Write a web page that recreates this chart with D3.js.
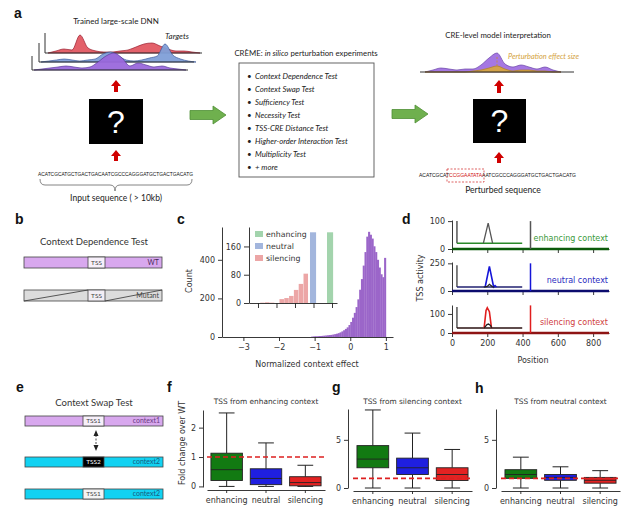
<!DOCTYPE html>
<html><head><meta charset="utf-8">
<script src="https://cdn.jsdelivr.net/npm/d3@7"></script>
<style>body{margin:0;background:#fff}svg{display:block}</style>
</head><body><svg id="c" width="640" height="511"></svg>
<script>
// ================= DATA =================
// Panel a: schematic signal tracks (heights)
const redTrack    = [0,2,4,3,18,5,2,1,1,2,3,6,9,10,7,4,2,2,1,0];
const blueTrack   = [0,1,2,3,2,1,2,3,8,10,6,2,1,2,4,6,18,7,3,1,0];
const purpleTrack = [0,1,2,3,4,3,2,3,8,14,17,12,4,7,5,3,4,2,1,0];
const interpTrack = [0,2,4,3,2,3,3,7,14,19,8,5,7,5,3,5,2,0];
const effectTrack = [0,0,0,0,0,0,1,2,4,6,3,1,2,2,1,1,0,0];
const creTests = ["Context Dependence Test","Context Swap Test","Sufficiency Test","Necessity Test",
  "TSS-CRE Distance Test","Higher-order Interaction Test","Multiplicity Test","+ more"];
const inputSeq = "ACATCGCATGCTGACTGACAATCGCCCAGGGATGCTGACTGACATG";
const seqParts = ["ACATCGCAT","CCGGAATATA","AATCGCCCAGGGATGCTGACTGACATG"];

// Panel c: histogram of normalized context effect
const histBinStarts = [-1.10,-1.05,-1.00,-0.95,-0.90,-0.85,-0.80,-0.75,-0.70,-0.65,-0.60,-0.55,-0.50,-0.45,-0.40,-0.35,-0.30,-0.25,-0.20,-0.15,-0.10,-0.05,0.00,0.05,0.10,0.15,0.20,0.25,0.30,0.35,0.40,0.45,0.50,0.55,0.60,0.65,0.70,0.75,0.80,0.85,0.90,0.95];
const histCounts    = [2,3,4,4,5,5,6,7,8,9,10,11,13,15,17,20,24,29,35,42,50,62,78,100,125,155,195,245,300,370,440,520,545,530,510,470,440,400,360,325,310,410];
const histBinWidth = 0.05;
const mainXTicks = [-3,-2,-1,0,1];
const mainYTicks = [0,200,400];
const insetSilStarts = [-2.44,-2.31,-2.18,-2.05,-1.92,-1.79,-1.66,-1.53,-1.40,-1.27];
const insetSilCounts = [1,2,1,0,11,14,20,37,54,83];
const insetSilWidth = 0.13;
const insetNeutral = {start:-1.095, width:0.165, count:200};
const insetEnhancing = {start:-0.635, width:0.165, count:200};
const insetYTicks = [0,80,160];
const insetXTicks = [-2.5,-2,-1.5,-1,-0.5];
const legendLabels = ["enhancing","neutral","silencing"];

// Panel d: TSS activity vs position
const dLabels = ["enhancing context","neutral context","silencing context"];
const dYMax = [104, 262, 147];
const dYTicks = [[0,100],[0,250],[0,100]];
const dXTicks = [0,200,400,600,800];
const dTssPos = 445;
const dSpike = [100, 250, 145];
const dInsetStart = 28, dInsetEnd = 398;
const dInsetBase = [21, 36, 26];
const dInsetTop = [100, 232, 137];
const dRefPeak = [
  [[178,21],[205,93],[230,21]],
  [[180,36],[200,42],[212,60],[228,40],[240,36]],
  [[182,26],[198,44],[207,47],[218,40],[226,26]]];
const dCtxPeak = [
  null,
  [[188,36],[212,223],[236,36],[244,48],[252,36]],
  [[182,26],[193,118],[200,132],[212,112],[224,26]]];

// Panels f, g, h: box plot statistics [low whisker, q1, median, q3, high whisker]
const boxCats = ["enhancing","neutral","silencing"];
const fStats = [[0,0.20,0.57,1.13,2.50],[0,0.06,0.27,0.60,1.48],[0,0.02,0.13,0.33,0.72]];
const gStats = [[0,2.10,3.00,4.40,8.10],[0,1.40,2.10,3.10,5.70],[0,0.78,1.40,2.10,4.00]];
const hStats = [[0,1.00,1.40,1.90,3.20],[0,0.80,1.10,1.40,2.20],[0,0.50,0.80,1.10,1.80]];
const fTicks = [0,1,2], ghTicks = [0,5];

// ================= DRAW =================
const svg = d3.select('#c');
svg.append('rect').attr('width',640).attr('height',511).attr('fill','#fff');
const SANS = "Lato, 'Open Sans', sans-serif";
const MPL = "'DejaVu Sans', sans-serif";
const BOLD = "'Liberation Sans', Arial, sans-serif";
const intFmt = d3.format('d');

function txt(x,y,s,o={}){
  const t = svg.append('text').attr('x',x).attr('y',y).text(s)
    .attr('font-family',o.family||SANS).attr('font-size',o.size||8)
    .attr('fill',o.fill||'#222').attr('text-anchor',o.anchor||'start');
  if(o.weight) t.attr('font-weight',o.weight);
  if(o.style) t.attr('font-style',o.style);
  if(o.rot) t.attr('transform',`rotate(${o.rot},${x},${y})`);
  return t;
}
function line(x1,y1,x2,y2,c,w,dash){
  const l = svg.append('line').attr('x1',x1).attr('y1',y1).attr('x2',x2).attr('y2',y2)
    .attr('stroke',c).attr('stroke-width',w);
  if(dash) l.attr('stroke-dasharray',dash);
  return l;
}
// panel letters
[["a",14,18],["b",15,224],["c",177,224],["d",402,224],["e",16,392],["f",167,392],["g",332,392],["h",475,393]]
  .forEach(([s,x,y])=>txt(x,y,s,{family:BOLD,size:14,weight:'bold',fill:'#111'}));

// ---------- Panel a ----------
function ridge(vals,x0,x1,base,fill,stroke,opacity){
  const xs = d3.scaleLinear().domain([0,vals.length-1]).range([x0,x1]);
  const ys = d3.scaleLinear().domain([0,20]).range([base,base-20]);
  svg.append('path').attr('d',d3.area().x((d,i)=>xs(i)).y0(base).y1(d=>ys(d)).curve(d3.curveMonotoneX)(vals))
    .attr('fill',fill).attr('fill-opacity',opacity||1).attr('stroke',stroke).attr('stroke-width',0.7);
}
txt(116,24,"Trained large-scale DNN",{size:8,anchor:'middle'});
txt(177,39,"Targets",{size:8,anchor:'middle',style:'italic'});
ridge(redTrack,48,200,53,'#e0505a','#9a2030',0.9);
line(45,33,45,53,'#333',1); line(45,53,202,53,'#333',1);
ridge(blueTrack,41,196,62,'#7f9fd8','#3d5a9a',0.95);
line(39,43,39,62,'#333',1); line(39,62,194,62,'#333',1);
ridge(purpleTrack,34,186,70,'#9a68dc','#5a3a9a',0.95);
line(32,56,32,70,'#333',1); line(32,70,188,70,'#333',1);

function redArrow(cx,yTop,yBot){
  svg.append('path').attr('d',`M${cx},${yTop} L${cx+5},${yTop+6} L${cx+2},${yTop+6} L${cx+2},${yBot} L${cx-2},${yBot} L${cx-2},${yTop+6} L${cx-5},${yTop+6} Z`)
    .attr('fill','#d00000');
}
function blackBox(x0,y0,x1,y1){
  svg.append('rect').attr('x',x0).attr('y',y0).attr('width',x1-x0).attr('height',y1-y0).attr('fill','#000');
  txt((x0+x1)/2,(y0+y1)/2+11,"?",{family:"'Liberation Sans', Arial, sans-serif",size:32,anchor:'middle',fill:'#fff'});
}
redArrow(116,80,92); blackBox(89,99,143,144); redArrow(116,150,161);
txt(38,176,inputSeq,{family:"'Liberation Sans', Arial, sans-serif",size:5,fill:'#111'}).attr('textLength',155).attr('lengthAdjust','spacingAndGlyphs');
svg.append('path').attr('d','M40,179 Q40,185 45,185 L110,185 Q115,185 115,191 Q115,185 120,185 L187,185 Q192,185 192,179')
  .attr('fill','none').attr('stroke','#666').attr('stroke-width',0.8);
txt(116,201,"Input sequence ( > 10kb)",{size:8.5,anchor:'middle'});

function greenArrow(x0,x1,cy){
  const hx = x1-13;
  svg.append('path').attr('d',`M${x0},${cy-4.5} L${hx},${cy-4.5} L${hx},${cy-9} L${x1},${cy} L${hx},${cy+9} L${hx},${cy+4.5} L${x0},${cy+4.5} Z`)
    .attr('fill','#6fb04e').attr('stroke','#4f8f35').attr('stroke-width',0.8);
}
greenArrow(190,226,115); greenArrow(392,428,114);

const ttl = svg.append('text').attr('x',306).attr('y',56).attr('text-anchor','middle')
  .attr('font-family',SANS).attr('font-size',7.8).attr('fill','#222');
ttl.append('tspan').text("CRÈME: ");
ttl.append('tspan').attr('font-style','italic').text("in silico");
ttl.append('tspan').text(" perturbation experiments");
svg.append('rect').attr('x',239).attr('y',63).attr('width',135).attr('height',114)
  .attr('fill','#fff').attr('stroke','#555').attr('stroke-width',0.9);
const testY = d3.scalePoint().domain(creTests).range([79,170]);
creTests.forEach(t=>{
  txt(247,testY(t),"•",{size:8});
  txt(255,testY(t),t,{size:7.8,style:'italic'});
});

txt(498,38,"CRE-level model interpretation",{size:7.8,anchor:'middle'});
ridge(interpTrack,425,561,72,'#a070e0','#6a45a8',0.95);
ridge(effectTrack,425,561,72,'#d6a540','#b08020',0.95);
line(420,72,574,72,'#333',1);
line(497,57,497,67,'#c89030',0.8,'2,1.5');
txt(508,59,"Perturbation effect size",{size:7.4,style:'italic',fill:'#d4a23c'});
redArrow(499,80,93); blackBox(473,99,526,143); redArrow(499,152,163);
const st = svg.append('text').attr('x',419).attr('y',177).attr('font-family',"'Liberation Sans', Arial, sans-serif")
  .attr('font-size',5).attr('fill','#111').attr('textLength',157).attr('lengthAdjust','spacingAndGlyphs');
st.append('tspan').text(seqParts[0]);
st.append('tspan').attr('fill','#d01010').text(seqParts[1]);
st.append('tspan').text(seqParts[2]);
svg.append('rect').attr('x',447).attr('y',169).attr('width',37).attr('height',13)
  .attr('fill','none').attr('stroke','#d02020').attr('stroke-width',0.7).attr('stroke-dasharray','2,1.5');
txt(503,193,"Perturbed sequence",{size:8.6,anchor:'middle'});

// ---------- Panels b & e ----------
function seqBar(y,h,x0,x1,t0,t1,fill,tssLabel,tssFill,tssColor,ctxLabel,ctxColor,diag){
  svg.append('rect').attr('x',x0).attr('y',y).attr('width',x1-x0).attr('height',h)
    .attr('fill',fill).attr('stroke','#444').attr('stroke-width',0.8);
  if(diag){
    line(x0,y+h,t0,y,'#333',0.8);
    line(t1,y+h,x1,y,'#333',0.8);
  }
  svg.append('rect').attr('x',t0).attr('y',y).attr('width',t1-t0).attr('height',h)
    .attr('fill',tssFill).attr('stroke','#444').attr('stroke-width',0.8);
  txt((t0+t1)/2,y+h/2+2.3,tssLabel,{size:6.5,anchor:'middle',fill:tssColor});
  txt(x1-3,y+h/2+2.4,ctxLabel,{size:7,anchor:'end',fill:ctxColor});
}
txt(94,245,"Context Dependence Test",{size:9.5,anchor:'middle',fill:'#333'});
seqBar(257,11,24,162,88,105,'#d8a8ee',"TSS",'#f7f0fa','#444',"WT",'#4a2a5a',false);
seqBar(290,11,24,162,88,105,'#dcdcdc',"TSS",'#f3eef5','#444',"Mutant",'#444',true);

txt(94,406,"Context Swap Test",{size:9.5,anchor:'middle',fill:'#333'});
seqBar(416,10,25,163,83,104,'#d8a8ee',"TSS1",'#f7f0fa','#444',"context1",'#6a3a80',false);
seqBar(457,10,25,163,83,104,'#12d2f2',"TSS2",'#000','#fff',"context2",'#1a5a80',false);
seqBar(489,10,25,163,83,104,'#12d2f2',"TSS1",'#f4f4f4','#444',"context2",'#1a5a80',false);
line(96,435,96,446,'#222',0.8,'2,1.5');
svg.append('path').attr('d','M96,430 L93.5,436 L98.5,436 Z M96,451 L93.5,445 L98.5,445 Z').attr('fill','#222');

// ---------- axis helper ----------
function mplAxis(g,axis,size){
  g.call(axis);
  g.attr('font-family',MPL).attr('font-size',size||8).attr('color','#222');
  g.selectAll('.tick text').attr('fill','#333');
  g.select('.domain').attr('stroke-width',0.9);
  g.selectAll('.tick line').attr('stroke-width',0.9);
  return g;
}

// ---------- Panel c ----------
const cx = d3.scaleLinear().domain([-3.6,1.2]).range([222,393]);
const cy = d3.scaleLinear().domain([0,570]).range([337,227]);
svg.append('g').selectAll('rect').data(histCounts).join('rect')
  .attr('x',(d,i)=>cx(histBinStarts[i])).attr('width',cx(histBinWidth)-cx(0)+0.3)
  .attr('y',d=>cy(d)).attr('height',d=>cy(0)-cy(d)).attr('fill','#9b66c9');
mplAxis(svg.append('g').attr('transform','translate(0,337)'),
  d3.axisBottom(cx).tickValues(mainXTicks).tickFormat(intFmt).tickSize(4).tickPadding(3).tickSizeOuter(0));
mplAxis(svg.append('g').attr('transform','translate(222,0)'),
  d3.axisLeft(cy).tickValues(mainYTicks).tickFormat(intFmt).tickSize(4).tickPadding(3).tickSizeOuter(0));
txt(307,367,"Normalized context effect",{family:MPL,size:8,anchor:'middle',fill:'#333'});
txt(192,281,"Count",{family:MPL,size:8,anchor:'middle',fill:'#333',rot:-90});

const ix = d3.scaleLinear().domain([-2.743,-0.365]).range([249,337]);
const iy = d3.scaleLinear().domain([0,215]).range([303,227]);
const inset = svg.append('g');
inset.selectAll('rect.s').data(insetSilCounts).join('rect').attr('class','s')
  .attr('x',(d,i)=>ix(insetSilStarts[i])).attr('width',ix(insetSilWidth)-ix(0)-0.3)
  .attr('y',d=>iy(d)).attr('height',d=>iy(0)-iy(d)).attr('fill','#eca6a6');
[[insetNeutral,'#a3b6dd'],[insetEnhancing,'#a3d4ad']].forEach(([b,c])=>{
  inset.append('rect').attr('x',ix(b.start)).attr('width',ix(b.width)-ix(0))
    .attr('y',iy(b.count)).attr('height',iy(0)-iy(b.count)).attr('fill',c);
});
mplAxis(svg.append('g').attr('transform','translate(0,303)'),
  d3.axisBottom(ix).tickValues(insetXTicks).tickFormat('').tickSize(5).tickSizeOuter(0));
mplAxis(svg.append('g').attr('transform','translate(249,0)'),
  d3.axisLeft(iy).tickValues(insetYTicks).tickFormat(intFmt).tickSize(5).tickPadding(3).tickSizeOuter(0));
const legColors = ['#a3d4ad','#a3b6dd','#eca6a6'];
const legY = d3.scalePoint().domain(legendLabels).range([234,258]);
legendLabels.forEach((l,i)=>{
  svg.append('rect').attr('x',255).attr('y',legY(l)-3).attr('width',8).attr('height',6).attr('fill',legColors[i]);
  txt(266,legY(l)+3,l,{family:MPL,size:7.8,fill:'#333'});
});

// ---------- Panel d ----------
const dx = d3.scaleLinear().domain([0,890]).range([452,609]);
const dRanges = [[249,220],[291,262],[333,305]];
const dBase = ['#0b5a0b','#0c0c6e','#8e1414'];
const dInsetLine = ['#2a8a2a','#202070','#2a1010'];
const dCtxCol = ['#2a8a2a','#1515d8','#e01e1e'];
const dTxtCol = ['#3a9a3a','#2a2ac0','#d04040'];
const dLine = d3.line().x(d=>dx(d[0]));
dLabels.forEach((lab,k)=>{
  const y = d3.scaleLinear().domain([0,dYMax[k]]).range(dRanges[k]);
  dLine.y(d=>y(d[1]));
  mplAxis(svg.append('g').attr('transform',`translate(0,${dRanges[k][0]})`),
    d3.axisBottom(dx).tickValues(dXTicks).tickSize(4).tickPadding(3).tickSizeOuter(0)
      .tickFormat(k===2?intFmt:''));
  mplAxis(svg.append('g').attr('transform','translate(452,0)'),
    d3.axisLeft(y).tickValues(dYTicks[k]).tickFormat(intFmt).tickSize(4).tickPadding(3).tickSizeOuter(0));
  // inset frame and trace
  svg.append('path').attr('d',dLine([[dInsetStart,dInsetBase[k]],[dInsetStart,dInsetTop[k]]]))
    .attr('stroke','#555').attr('stroke-width',1.5).attr('fill','none');
  svg.append('path').attr('d',dLine([[dInsetStart,dInsetBase[k]],[dInsetEnd,dInsetBase[k]]]))
    .attr('stroke',dInsetLine[k]).attr('stroke-width',1.5).attr('fill','none');
  if(dCtxPeak[k]) svg.append('path').attr('d',dLine(dCtxPeak[k]))
    .attr('stroke',dCtxCol[k]).attr('stroke-width',1.6).attr('fill','none');
  svg.append('path').attr('d',dLine(dRefPeak[k]))
    .attr('stroke',k===0?'#555':'#222').attr('stroke-width',1.3).attr('fill','none');
  // main trace
  svg.append('path').attr('d',dLine([[0,0],[890,0]])).attr('stroke',dBase[k]).attr('stroke-width',2.6).attr('fill','none');
  svg.append('path').attr('d',dLine([[dTssPos,0],[dTssPos,dSpike[k]]]))
    .attr('stroke',k===0?'#555':dCtxCol[k]).attr('stroke-width',1.5).attr('fill','none');
  txt(608,dRanges[k][0]-8,lab,{family:MPL,size:8,anchor:'end',fill:dTxtCol[k]});
});
txt(533,363,"Position",{family:MPL,size:8,anchor:'middle',fill:'#333'});
txt(423,278,"TSS activity",{family:MPL,size:8,anchor:'middle',fill:'#333',rot:-90});

// ---------- Panels f, g, h ----------
const boxFill = ['#127a12','#1f1fe0','#e32222'];
function boxPanel(stats,xr,yAxisX,xAxisY,yDom,yRange,ticks,title){
  const x = d3.scaleBand().domain(boxCats).range(xr);
  const y = d3.scaleLinear().domain(yDom).range(yRange);
  mplAxis(svg.append('g').attr('transform',`translate(${yAxisX},0)`),
    d3.axisLeft(y).tickValues(ticks).tickFormat(intFmt).tickSize(4).tickPadding(3).tickSizeOuter(0));
  mplAxis(svg.append('g').attr('transform',`translate(0,${xAxisY})`),
    d3.axisBottom(x).tickSize(3).tickPadding(4).tickSizeOuter(0));
  const bw = x.bandwidth()*0.8, cw = bw/2;
  stats.forEach((s,i)=>{
    const c = x(boxCats[i]) + x.bandwidth()/2;
    line(c,y(s[0]),c,y(s[1]),'#222',1);
    line(c,y(s[3]),c,y(s[4]),'#222',1);
    line(c-cw/2,y(s[0]),c+cw/2,y(s[0]),'#222',1);
    line(c-cw/2,y(s[4]),c+cw/2,y(s[4]),'#222',1);
    svg.append('rect').attr('x',c-bw/2).attr('y',y(s[3])).attr('width',bw).attr('height',y(s[1])-y(s[3]))
      .attr('fill',boxFill[i]).attr('stroke','#222').attr('stroke-width',0.9);
    line(c-bw/2,y(s[2]),c+bw/2,y(s[2]),'#222',0.9);
  });
  line(xr[0],y(1),xr[1],y(1),'#dd2020',1.6,'5,3');
  txt((xr[0]+xr[1])/2,403.5,title,{family:MPL,size:7.4,anchor:'middle',fill:'#333'});
}
boxPanel(fStats,[207,325],203,490,[-0.02,2.6],[487,410],fTicks,"TSS from enhancing context");
boxPanel(gStats,[353,472],348,491,[0,8.2],[488,409],ghTicks,"TSS from silencing context");
boxPanel(hStats,[501,620],496,491,[0,8.2],[488,409],ghTicks,"TSS from neutral context");
txt(185,443,"Fold change over WT",{family:MPL,size:8,anchor:'middle',fill:'#333',rot:-90});
</script></body></html>
